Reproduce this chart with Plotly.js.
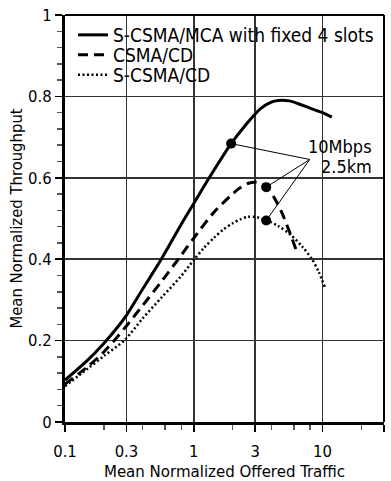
<!DOCTYPE html>
<html>
<head>
<meta charset="utf-8">
<script src="https://cdn.plot.ly/plotly-3.0.1.min.js"></script>
<style>html,body{margin:0;padding:0;background:#fff;}#chart{width:391px;height:481px;}</style>
</head>
<body>
<div id="chart"></div>
<script>
// ---- data ----
const seriesNames = ["S-CSMA/MCA with fixed 4 slots", "CSMA/CD", "S-CSMA/CD"];

const mcaX = [0.1, 0.15, 0.2, 0.25, 0.3, 0.4, 0.55, 0.8, 1.0, 1.3, 1.95, 2.5, 3.3, 4.0, 4.5, 5.5, 6.5, 8, 10, 11.8];
const mcaY = [0.103, 0.152, 0.193, 0.229, 0.262, 0.326, 0.396, 0.486, 0.537, 0.597, 0.684, 0.728, 0.77, 0.786, 0.79, 0.789, 0.782, 0.771, 0.76, 0.749];

const cdX = [0.1, 0.15, 0.2, 0.25, 0.3, 0.4, 0.57, 0.8, 1.0, 1.44, 1.95, 2.25, 2.62, 3.1, 3.65, 4.2, 4.8, 5.5, 6.25];
const cdY = [0.093, 0.136, 0.172, 0.206, 0.236, 0.286, 0.348, 0.41, 0.452, 0.516, 0.557, 0.574, 0.586, 0.589, 0.577, 0.552, 0.516, 0.47, 0.422];

const scdX = [0.1, 0.15, 0.2, 0.29, 0.4, 0.57, 0.79, 1.0, 1.2, 1.44, 1.7, 2.0, 2.3, 2.62, 3.1, 3.65, 4.5, 5.7, 7, 8.2, 9.3, 10.4];
const scdY = [0.088, 0.131, 0.162, 0.201, 0.254, 0.308, 0.357, 0.398, 0.428, 0.453, 0.473, 0.488, 0.498, 0.504, 0.503, 0.496, 0.482, 0.459, 0.43, 0.402, 0.37, 0.332];

// highlighted points (10Mbps, 2.5km) and callout anchor
const dotX = [1.95, 3.65, 3.65];
const dotY = [0.684, 0.577, 0.495];
const calloutX = 7.95;
const calloutY = 0.645;
const calloutLines = ["10Mbps", "2.5km"];

// axis ticks
const xTickVals = [0.1, 0.3, 1, 3, 10, 30];
const xTickText = ["0.1", "0.3", "1", "3", "10", "30"];
const xMinorVals = [0.2, 0.4, 0.6, 0.8, 2, 4, 6, 8, 20];
const yTickVals = [0, 0.2, 0.4, 0.6, 0.8, 1];
const yTickText = ["0", "0.2", "0.4", "0.6", "0.8", "1"];

const xTitle = "Mean Normalized Offered Traffic";
const yTitle = "Mean Normalized Throughput";

// ---- build ----
const FONT = "DejaVu Sans Condensed, DejaVu Sans, sans-serif";

const cx = [], cy = [];
dotX.forEach((x, i) => { cx.push(calloutX, x, null); cy.push(calloutY, dotY[i], null); });

const traces = [
  {x: mcaX, y: mcaY, name: seriesNames[0], mode: "lines", line: {color: "#000", width: 3, shape: "spline", smoothing: 0.8}, legend: "legend"},
  {x: cdX, y: cdY, name: seriesNames[1], mode: "lines", line: {color: "#000", width: 3, dash: "10px,6px", shape: "spline", smoothing: 0.8}, legend: "legend2"},
  {x: scdX, y: scdY, name: seriesNames[2], mode: "lines", line: {color: "#000", width: 2.5, dash: "2px,2.5px", shape: "spline", smoothing: 0.8}, legend: "legend3"},
  {x: cx, y: cy, mode: "lines", line: {color: "#000", width: 1}, showlegend: false, hoverinfo: "skip"},
  {x: dotX, y: dotY, mode: "markers", marker: {color: "#000", size: 10}, showlegend: false}
];

function legendAt(py) {
  return {x: 8 / 319, xanchor: "left", y: (422 - py) / 407, yanchor: "middle",
          itemwidth: 30,
          bgcolor: "rgba(0,0,0,0)", borderwidth: 0,
          font: {family: FONT, size: 19, color: "#000"}};
}

const layout = {
  width: 391, height: 481,
  margin: {l: 65, r: 7, t: 15, b: 59},
  paper_bgcolor: "#fff", plot_bgcolor: "#fff",
  font: {family: FONT, size: 16.5, color: "#000"},
  showlegend: true,
  legend: legendAt(35),
  legend2: legendAt(55),
  legend3: legendAt(75),
  xaxis: {
    type: "log", range: [-1, Math.log10(30)],
    tickmode: "array", tickvals: xTickVals, ticktext: xTickText,
    ticks: "outside", ticklen: 7, tickwidth: 1.5, tickcolor: "#000",
    ticklabelstandoff: 5,
    showgrid: true, gridcolor: "#333", gridwidth: 1.5,
    showline: true, linecolor: "#000", linewidth: 3,
    zeroline: false,
    minor: {tickmode: "array", tickvals: xMinorVals, ticks: "outside", ticklen: 5, tickwidth: 1.5, tickcolor: "#555", showgrid: false},
    tickfont: {family: FONT, size: 16.5, color: "#000"},
    title: {text: xTitle, font: {family: FONT, size: 16.7, color: "#000"}, standoff: 9}
  },
  yaxis: {
    range: [0, 1],
    tickmode: "array", tickvals: yTickVals, ticktext: yTickText,
    ticks: "outside", ticklen: 7, tickwidth: 1.5, tickcolor: "#000",
    showgrid: true, gridcolor: "#333", gridwidth: 1.5,
    showline: true, linecolor: "#000", linewidth: 3,
    zeroline: false,
    minor: {tick0: 0, dtick: 0.04, ticks: "outside", ticklen: 5, tickwidth: 1.5, tickcolor: "#555", showgrid: false},
    tickfont: {family: FONT, size: 16.5, color: "#000"},
    title: {text: yTitle, font: {family: FONT, size: 16.5, color: "#000"}, standoff: 2}
  },
  shapes: [
    {type: "rect", xref: "paper", yref: "paper", x0: 0, x1: 1, y0: (422 - 87) / 407, y1: 1,
     fillcolor: "#fff", line: {width: 0}, layer: "between"},
    {type: "line", xref: "paper", yref: "paper", x0: 0, x1: 1, y0: 1, y1: 1, line: {color: "#000", width: 2}},
    {type: "line", xref: "paper", yref: "paper", x0: 1, x1: 1, y0: 0, y1: 1, line: {color: "#000", width: 2}}
  ],
  annotations: [
    {x: Math.log10(25), y: 0.676, xref: "x", yref: "y", text: calloutLines[0], showarrow: false, xanchor: "right", yanchor: "middle", font: {family: FONT, size: 18, color: "#000"}},
    {x: Math.log10(25), y: 0.627, xref: "x", yref: "y", text: calloutLines[1], showarrow: false, xanchor: "right", yanchor: "middle", font: {family: FONT, size: 18, color: "#000"}}
  ]
};

Plotly.newPlot("chart", traces, layout, {displayModeBar: false, staticPlot: true});
</script>
</body>
</html>
